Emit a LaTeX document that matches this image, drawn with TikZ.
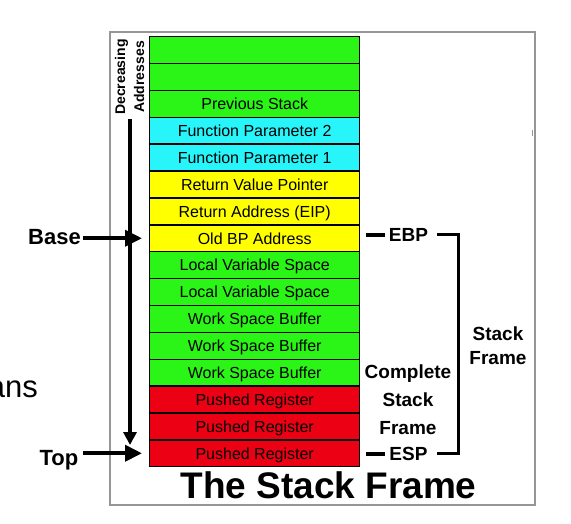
\documentclass[tikz,border=0pt]{standalone}
\usepackage{fontspec}
\setmainfont{Liberation Sans}
\usetikzlibrary{arrows.meta}
\definecolor{sgreen}{RGB}{42,245,22}
\definecolor{scyan}{RGB}{40,245,250}
\definecolor{syellow}{RGB}{255,255,0}
\definecolor{sred}{RGB}{235,0,20}
\definecolor{framegray}{RGB}{150,150,150}
\tikzset{
  cell/.style={draw=black, line width=1.4pt, minimum width=210pt, minimum height=26.875pt,
    inner sep=0pt, anchor=north west, text height=11.5pt, text depth=0pt,
    font=\fontsize{16}{19}\selectfont},
  gcell/.style={cell, fill=sgreen},
  ccell/.style={cell, fill=scyan},
  ycell/.style={cell, fill=syellow},
  rcell/.style={cell, fill=sred},
  biglabel/.style={inner sep=0pt, anchor=base, font=\fontsize{22}{26}\selectfont\bfseries},
  reglabel/.style={inner sep=0pt, anchor=base, font=\fontsize{19}{23}\selectfont\bfseries},
  pointer/.style={line width=3.8pt, -{Triangle[length=17pt,width=16pt]}},
  downarrow/.style={line width=3.8pt, -{Triangle[length=13pt,width=13pt]}},
  regdash/.style={line width=4.2pt},
  bracketline/.style={line width=3pt, line join=miter},
  cuttext/.style={inner sep=0pt, anchor=base east, text height=14pt, text depth=0pt, font=\fontsize{31}{36}\selectfont},
}
\begin{document}
\begin{tikzpicture}[x=1pt,y=-1pt]
\useasboundingbox (0,0) rectangle (571,524);
% outer frame
\draw[framegray, line width=1.3pt] (110,32) rectangle (535,505);
\draw[framegray, line width=1pt] (532,130) -- (532,136);
% cut-off text at left
\node[cuttext] (ans) at (38,397) {ans};
\node[cuttext, text height=3pt] (dot) at (3,427) {.};
% stack cells
\node[gcell] (r1)  at (149,36) {};
\node[gcell] (r2)  at (149,62.875) {};
\node[gcell] (r3)  at (149,89.75) {Previous Stack};
\node[ccell] (r4)  at (149,116.625) {Function Parameter 2};
\node[ccell] (r5)  at (149,143.5) {Function Parameter 1};
\node[ycell] (r6)  at (149,170.375) {Return Value Pointer};
\node[ycell] (r7)  at (149,197.25) {Return Address (EIP)};
\node[ycell] (r8)  at (149,224.125) {Old BP Address};
\node[gcell] (r9)  at (149,251) {Local Variable Space};
\node[gcell] (r10) at (149,277.875) {Local Variable Space};
\node[gcell] (r11) at (149,304.75) {Work Space Buffer};
\node[gcell] (r12) at (149,331.625) {Work Space Buffer};
\node[gcell] (r13) at (149,358.5) {Work Space Buffer};
\node[rcell] (r14) at (149,385.375) {Pushed Register};
\node[rcell] (r15) at (149,412.25) {Pushed Register};
\node[rcell] (r16) at (149,439.125) {Pushed Register};
% decreasing addresses
\node[rotate=90, align=center, inner sep=0pt, font=\fontsize{14}{19}\selectfont\bfseries] (dec) at (129.5,77) {Decreasing\\Addresses};
\coordinate (dtop) at (130,119);
\coordinate (dbot) at (130,445);
\draw[downarrow] (dtop) -- (dbot);
% base / top pointers
\node[biglabel] (base) at (54.5,245) {Base};
\node[biglabel] (top) at (59,465) {Top};
\draw[pointer] (base.east |- r8.west) ++(2.5pt,0) -- ([xshift=-7pt]r8.west);
\draw[pointer] (top.east |- r16.west) ++(4.5pt,0) -- ([xshift=-7pt]r16.west);
% EBP / ESP
\node[reglabel] (ebp) at (408.5,242) {EBP};
\node[reglabel] (esp) at (408.5,460) {ESP};
\coordinate (ebpL) at (366,235);
\coordinate (espL) at (366,454);
\draw[regdash] (ebpL) -- (385,235);
\draw[regdash] (espL) -- (385,454);
\coordinate (brA) at (437,235);
\coordinate (brB) at (458.5,235);
\coordinate (brC) at (458.5,453.5);
\coordinate (brD) at (437,453.5);
\draw[bracketline] (brA) -- (brB) -- (brC) -- (brD);
% stack frame labels
\node[reglabel] (sf1) at (498,340) {Stack};
\node[reglabel] (sf2) at (498,364) {Frame};
\node[reglabel] (csf1) at (408,378) {Complete};
\node[reglabel] (csf2) at (408,406) {Stack};
\node[reglabel] (csf3) at (408,434) {Frame};
% title
\node[inner sep=0pt, anchor=base, font=\fontsize{37}{40}\selectfont\bfseries] (title) at (328.5,498) {The Stack Frame};
\end{tikzpicture}
\end{document}
